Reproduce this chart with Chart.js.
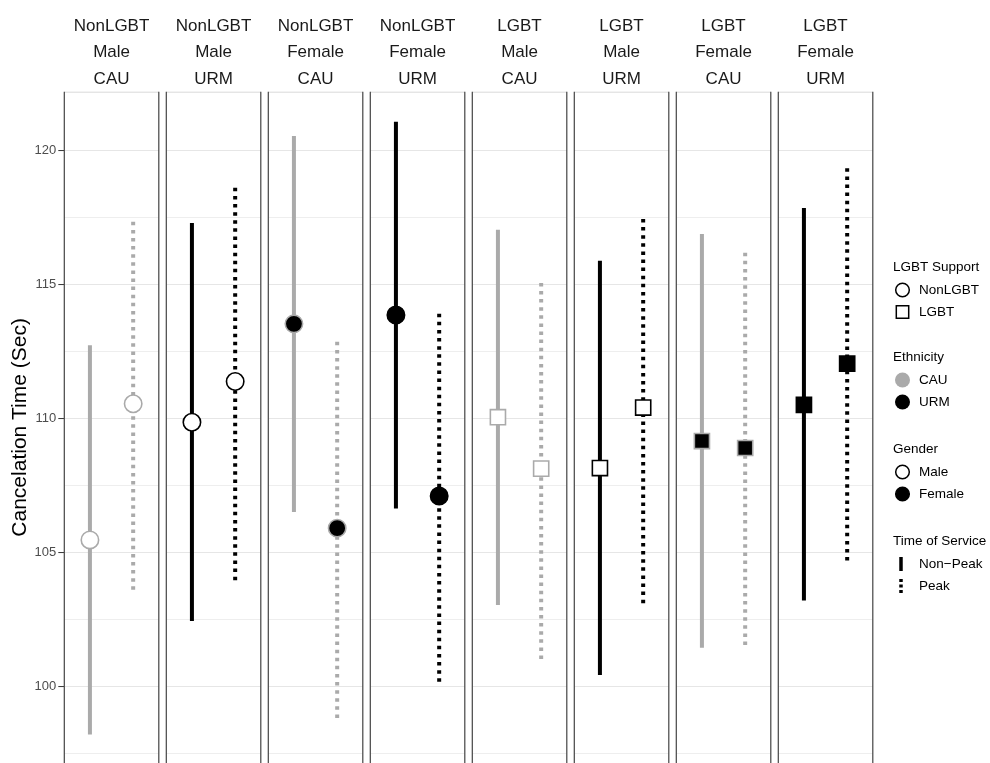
<!DOCTYPE html>
<html>
<head>
<meta charset="utf-8">
<script src="https://cdn.jsdelivr.net/npm/chart.js@4.4.1/dist/chart.umd.min.js"></script>
<style>
  html, body { margin: 0; padding: 0; background: #ffffff; }
  #wrap { width: 990px; height: 763px; }
</style>
</head>
<body>
<div id="wrap"><canvas id="c" width="990" height="763"></canvas></div>
<script>
// Facet strips: one panel per LGBT support / gender / ethnicity combination
const panelSupport   = ['NonLGBT', 'NonLGBT', 'NonLGBT', 'NonLGBT', 'LGBT', 'LGBT', 'LGBT', 'LGBT'];
const panelGender    = ['Male', 'Male', 'Female', 'Female', 'Male', 'Male', 'Female', 'Female'];
const panelEthnicity = ['CAU', 'URM', 'CAU', 'URM', 'CAU', 'URM', 'CAU', 'URM'];

// Cancelation time (sec): mean and interval, non-peak service
const nonPeakMean = [105.48, 109.87, 113.54, 113.87, 110.06, 108.16, 109.17, 110.52];
const nonPeakLow  = [ 98.22, 102.46, 106.52, 106.65, 103.05, 100.44, 101.46, 103.22];
const nonPeakHigh = [112.74, 117.30, 120.55, 121.08, 117.05, 115.89, 116.89, 117.86];

// Cancelation time (sec): mean and interval, peak service
const peakMean = [110.56, 111.39, 105.92, 107.12, 108.14, 110.42, 108.91, 112.06];
const peakLow  = [103.62, 103.98,  98.84, 100.19, 101.04, 103.12, 101.56, 104.71];
const peakHigh = [117.48, 118.75, 113.02, 114.07, 115.21, 117.60, 116.30, 119.38];

// Labelled y ticks (minor grid lines fall halfway between)
const yTicks = [100, 105, 110, 115, 120];

// Legend content
const legendGroups = [
  { title: 'LGBT Support', items: ['NonLGBT', 'LGBT'] },
  { title: 'Ethnicity', items: ['CAU', 'URM'] },
  { title: 'Gender', items: ['Male', 'Female'] },
  { title: 'Time of Service', items: ['Non\u2212Peak', 'Peak'] }
];

const FONT = '"Liberation Sans", Arial, Helvetica, sans-serif';
const GREY = '#aaaaaa';
const ethColor = e => (e === 'CAU' ? GREY : '#000000');

// Panel geometry in x-scale units: each panel is 1 unit wide including the gap after it
const PANEL_W = 0.9265;
const PANEL_CENTER = PANEL_W / 2;
const DODGE = 0.212;
const X_MAX = 7 + PANEL_W;

const idx = panelSupport.map((_, i) => i);
const datasets = [];

// Point estimates drawn on top of the interval lines
function meanDataset(values, side) {
  return {
    type: 'scatter',
    data: idx.map(i => ({ x: i + PANEL_CENTER + side * DODGE, y: values[i] })),
    pointStyle: idx.map(i => (panelSupport[i] === 'LGBT' ? 'rect' : 'circle')),
    pointRadius: idx.map(i => (panelSupport[i] === 'LGBT' ? 10.7 : 8.7)),
    pointBackgroundColor: idx.map(i => (panelGender[i] === 'Female' ? '#000000' : '#ffffff')),
    pointBorderColor: idx.map(i => ethColor(panelEthnicity[i])),
    pointBorderWidth: 1.6,
    showLine: false,
    order: 0
  };
}
datasets.push(meanDataset(nonPeakMean, -1));
datasets.push(meanDataset(peakMean, 1));

// Interval lines: solid for non-peak, dotted for peak
idx.forEach(i => {
  const xa = i + PANEL_CENTER - DODGE;
  const xb = i + PANEL_CENTER + DODGE;
  datasets.push({
    type: 'scatter', showLine: true,
    data: [{ x: xa, y: nonPeakLow[i] }, { x: xa, y: nonPeakHigh[i] }],
    borderColor: ethColor(panelEthnicity[i]), borderWidth: 4,
    borderCapStyle: 'butt', pointRadius: 0, order: 2
  });
  datasets.push({
    type: 'scatter', showLine: true,
    data: [{ x: xb, y: peakLow[i] }, { x: xb, y: peakHigh[i] }],
    borderColor: ethColor(panelEthnicity[i]), borderWidth: 4,
    borderDash: [3.5, 4.6], borderCapStyle: 'butt', pointRadius: 0, order: 2
  });
});

const isMajor = v => yTicks.some(t => Math.abs(t - v) < 1e-6);

// Blank the gaps between panels, draw panel frames and facet strips
const facetPlugin = {
  id: 'facets',
  beforeDatasetsDraw(chart) {
    const { ctx, chartArea, scales } = chart;
    const xs = scales.x;
    ctx.save();
    ctx.fillStyle = '#ffffff';
    for (let i = 0; i < idx.length - 1; i++) {
      const a = xs.getPixelForValue(i + PANEL_W);
      const b = xs.getPixelForValue(i + 1);
      ctx.fillRect(a, chartArea.top - 1, b - a, chartArea.bottom - chartArea.top + 2);
    }
    idx.forEach(i => {
      const l = xs.getPixelForValue(i);
      const r = xs.getPixelForValue(i + PANEL_W);
      ctx.strokeStyle = '#d9d9d9';
      ctx.lineWidth = 1;
      ctx.beginPath();
      ctx.moveTo(l, chartArea.top + 0.5);
      ctx.lineTo(r, chartArea.top + 0.5);
      ctx.stroke();
      ctx.strokeStyle = '#444444';
      ctx.lineWidth = 1.2;
      ctx.beginPath();
      ctx.moveTo(l, chartArea.top);
      ctx.lineTo(l, chartArea.bottom);
      ctx.moveTo(r, chartArea.top);
      ctx.lineTo(r, chartArea.bottom);
      ctx.stroke();
    });
    ctx.restore();
  },
  afterDraw(chart) {
    const { ctx, scales } = chart;
    const xs = scales.x;
    ctx.save();
    ctx.fillStyle = '#1a1a1a';
    ctx.font = '17px ' + FONT;
    ctx.textAlign = 'center';
    ctx.textBaseline = 'alphabetic';
    idx.forEach(i => {
      const cx = xs.getPixelForValue(i + PANEL_CENTER);
      ctx.fillText(panelSupport[i], cx, 30.7);
      ctx.fillText(panelGender[i], cx, 57.4);
      ctx.fillText(panelEthnicity[i], cx, 84.1);
    });
    ctx.restore();
  }
};

// Legend on the right
const legendPlugin = {
  id: 'sideLegend',
  afterDraw(chart) {
    const ctx = chart.ctx;
    const x0 = 893, keyX = 902.5, textX = 919;
    const groupTops = [267, 357, 449, 541];
    ctx.save();
    ctx.textBaseline = 'middle';
    ctx.textAlign = 'left';
    legendGroups.forEach((g, gi) => {
      const ty = groupTops[gi];
      ctx.fillStyle = '#000000';
      ctx.font = '13.5px ' + FONT;
      ctx.fillText(g.title, x0, ty);
      g.items.forEach((label, k) => {
        const y = ty + 23 + k * 22;
        ctx.fillStyle = '#000000';
        ctx.font = '13.5px ' + FONT;
        ctx.fillText(label, textX, y);
        ctx.lineWidth = 1.5;
        if (gi === 0) {
          ctx.fillStyle = '#ffffff';
          ctx.strokeStyle = '#000000';
          ctx.beginPath();
          if (k === 0) ctx.arc(keyX, y, 6.8, 0, Math.PI * 2);
          else ctx.rect(keyX - 6.2, y - 6.2, 12.4, 12.4);
          ctx.fill();
          ctx.stroke();
        } else if (gi === 1) {
          ctx.fillStyle = k === 0 ? GREY : '#000000';
          ctx.beginPath();
          ctx.arc(keyX, y, 7.5, 0, Math.PI * 2);
          ctx.fill();
        } else if (gi === 2) {
          ctx.beginPath();
          ctx.arc(keyX, y, 6.8, 0, Math.PI * 2);
          ctx.fillStyle = k === 0 ? '#ffffff' : '#000000';
          ctx.strokeStyle = '#000000';
          ctx.fill();
          ctx.stroke();
        } else {
          ctx.strokeStyle = '#000000';
          ctx.lineWidth = 3.5;
          ctx.setLineDash(k === 0 ? [] : [3, 2.5]);
          ctx.beginPath();
          ctx.moveTo(keyX - 1.5, y - 7);
          ctx.lineTo(keyX - 1.5, y + 7);
          ctx.stroke();
          ctx.setLineDash([]);
        }
      });
    });
    ctx.restore();
  }
};

new Chart(document.getElementById('c'), {
  type: 'scatter',
  data: { datasets },
  options: {
    responsive: false,
    animation: false,
    events: [],
    layout: { autoPadding: false, padding: { top: 91.7, right: 117.2, bottom: 0, left: 0 } },
    scales: {
      x: { type: 'linear', min: 0, max: X_MAX, display: false },
      y: {
        type: 'linear',
        min: 97.16,
        max: 122.2,
        border: { display: false },
        afterFit: s => { s.width = 64.3; s.paddingTop = 0; s.paddingBottom = 0; },
        ticks: {
          stepSize: 2.5,
          includeBounds: false,
          autoSkip: false,
          padding: 2,
          color: '#4d4d4d',
          font: { family: FONT, size: 13 },
          callback: v => (isMajor(v) ? String(v) : '')
        },
        grid: {
          color: ctx => (ctx.tick && isMajor(ctx.tick.value) ? '#e6e6e6' : '#eeeeee'),
          lineWidth: ctx => (ctx.tick && isMajor(ctx.tick.value) ? 1.1 : 1),
          tickColor: ctx => (ctx.tick && isMajor(ctx.tick.value) ? '#333333' : 'rgba(0,0,0,0)'),
          tickLength: 6,
          tickWidth: 1
        },
        title: {
          display: true,
          text: 'Cancelation Time (Sec)',
          color: '#000000',
          font: { family: FONT, size: 21 },
          padding: { top: 8, bottom: 0 }
        }
      }
    },
    plugins: {
      legend: { display: false },
      tooltip: { enabled: false }
    }
  },
  plugins: [facetPlugin, legendPlugin]
});
</script>
</body>
</html>
